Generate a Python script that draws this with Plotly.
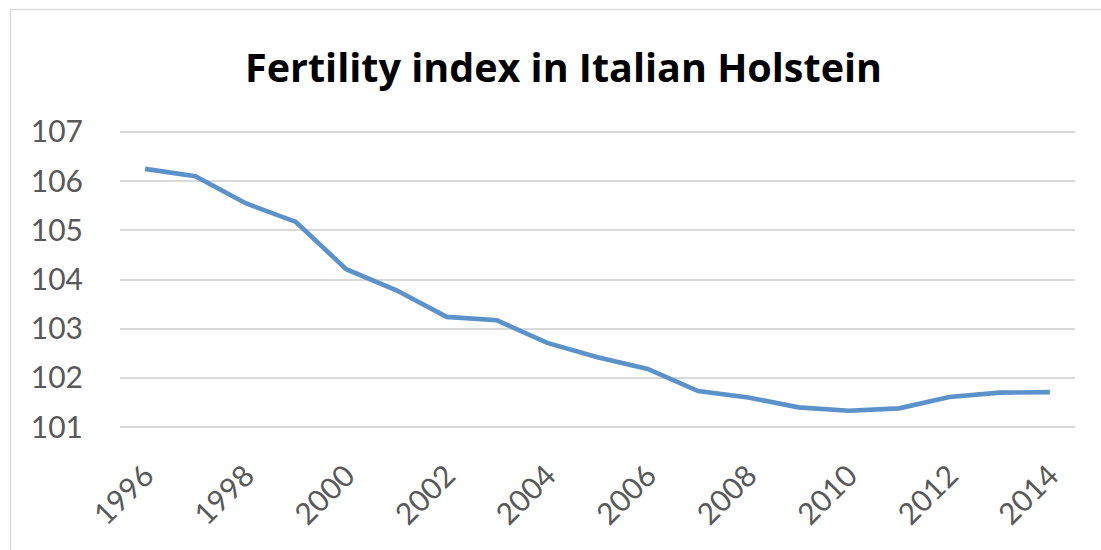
import plotly.graph_objects as go

years = list(range(1996, 2015))
fertility_index = [106.25, 106.10, 105.55, 105.17, 104.21, 103.78, 103.24, 103.17,
                   102.71, 102.42, 102.18, 101.73, 101.60, 101.40, 101.33, 101.38,
                   101.61, 101.70, 101.71]
x_tick_years = list(range(1996, 2015, 2))
y_ticks = [101, 102, 103, 104, 105, 106, 107]
title_text = "Fertility index in Italian Holstein"

W, H = 1101, 550
L, R, T, B = 120, 1075, 130, 429
pw, ph = R - L, B - T

def px_x(p):
    return (p - L) / pw

def px_y(p):
    return (B - p) / ph

fig = go.Figure()
fig.add_trace(go.Scatter(
    x=years, y=fertility_index, mode="lines",
    line=dict(color="#5B92CA", width=4.6),
    hoverinfo="x+y", showlegend=False,
))

pad = 0.04
fig.update_layout(
    width=W, height=H,
    margin=dict(l=L, r=W - R, t=T, b=H - B),
    paper_bgcolor="white", plot_bgcolor="white",
    font=dict(family="Lato, 'Open Sans', sans-serif", color="#595959"),
    xaxis=dict(
        range=[1995.5, 2014.5], tickmode="array", tickvals=x_tick_years,
        ticktext=[str(v) for v in x_tick_years], tickangle=-45,
        showgrid=False, zeroline=False, showline=False, ticks="",
        tickfont=dict(size=30, color="#595959"), ticklabelstandoff=22,
    ),
    yaxis=dict(
        range=[101 - pad, 107 + pad], tickmode="array", tickvals=y_ticks,
        showgrid=True, gridcolor="#D9D9D9", gridwidth=1.5,
        zeroline=False, showline=False, ticks="",
        tickfont=dict(size=30, color="#595959"), ticklabelstandoff=36,
    ),
    shapes=[dict(
        type="rect", xref="paper", yref="paper",
        x0=px_x(10.5), x1=px_x(1130), y0=px_y(600), y1=px_y(9.5),
        line=dict(color="#D9D9D9", width=1.3), fillcolor="rgba(0,0,0,0)", layer="below",
    )],
    annotations=[dict(
        text="<b>" + title_text + "</b>", xref="paper", yref="paper",
        x=px_x(563), y=px_y(67), xanchor="center", yanchor="middle",
        showarrow=False, font=dict(size=39.5, color="black", family="'Open Sans', sans-serif"),
    )],
)

fig.write_html("out.html")
